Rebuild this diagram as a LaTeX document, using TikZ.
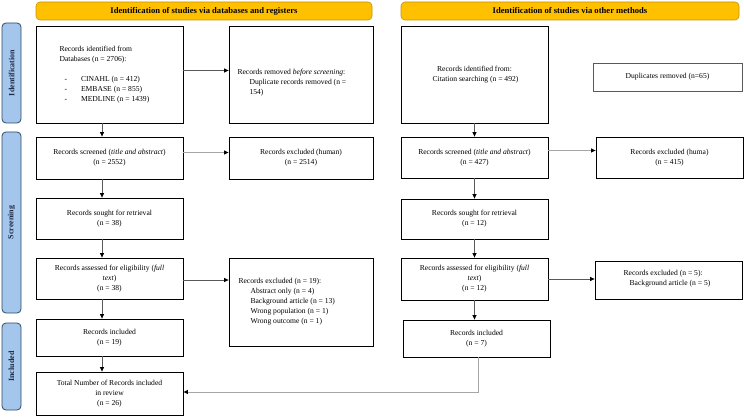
\documentclass[tikz,border=0pt]{standalone}
\usepackage{fontspec}
\setmainfont{Liberation Serif}
\usetikzlibrary{arrows.meta}
\definecolor{hdrfill}{HTML}{FFC000}
\definecolor{hdrline}{HTML}{C89200}
\definecolor{sidefill}{HTML}{A4C6EC}
\definecolor{sideline}{HTML}{2E4A66}
\definecolor{sidetext}{HTML}{1F2A44}
\definecolor{arrdark}{HTML}{595959}
\definecolor{arrlight}{HTML}{A6A6A6}
\newcommand{\mkbox}[7]{\node[#1, minimum width={(#5-#3)*1pt}, minimum height={(#6-#4)*1pt}] (#2) at ({(#3+#5)/2},{(#4+#6)/2}) {#7};}
\begin{document}
\begin{tikzpicture}[x=1pt,y=-1pt,
  txt/.style={font=\fontsize{7.6}{10}\selectfont},
  box/.style={txt, draw=black, line width=0.8pt, fill=white, inner sep=2pt, align=center},
  gbox/.style={box, draw=arrdark, line width=0.6pt},
  hdr/.style={draw=hdrline, line width=0.6pt, fill=hdrfill, rounded corners=4pt, font=\bfseries\fontsize{8.6}{10}\selectfont, inner sep=0pt},
  side/.style={draw=sideline, line width=0.8pt, fill=sidefill, rounded corners=4pt, inner sep=0pt},
  sidet/.style={font=\bfseries\fontsize{8}{10}\selectfont, text=sidetext, rotate=90},
  arr/.style={draw=arrdark, line width=0.7pt, -{Triangle[length=4.5pt,width=4pt,color=black]}},
  larr/.style={arr, draw=arrlight, line width=1pt}
]
\useasboundingbox (0,0) rectangle (744,417);
% headers
\mkbox{hdr}{H1}{36}{2}{372}{20}{Identification of studies via databases and registers}
\mkbox{hdr}{H2}{401}{2}{739}{20}{Identification of studies via other methods}
% side labels
\mkbox{side}{S1}{2}{23}{21}{123}{}
\mkbox{side}{S2}{2}{132}{21}{313}{}
\mkbox{side}{S3}{2}{323}{21}{410}{}
\node[sidet] (S1t) at (S1.center) {Identification};
\node[sidet] (S2t) at (S2.center) {Screening};
\node[sidet] (S3t) at (S3.center) {Included};
% left column
\mkbox{box}{L1}{36}{26}{183}{123}{}
\node[txt, align=left, anchor=west] (L1t) at (56,74.5) {Records identified from\\Databases (n = 2706):\\[10pt]\hspace*{5pt}-\hspace{14pt}CINAHL (n = 412)\\\hspace*{5pt}-\hspace{14pt}EMBASE (n = 855)\\\hspace*{5pt}-\hspace{14pt}MEDLINE (n = 1439)};
\mkbox{box}{L1r}{229}{26}{373}{123}{}
\node[txt, align=left, anchor=north west] (L1rt) at (234,66) {Records removed \textit{before screening}:\\\hspace*{12pt}Duplicate records removed (n =\\\hspace*{12pt}154)};
\mkbox{box}{L2}{36}{137}{183}{179}{Records screened (\textit{title and abstract})\\(n = 2552)}
\mkbox{box}{L2r}{229}{137}{373}{179}{Records excluded (human)\\(n = 2514)}
\mkbox{box}{L3}{36}{198}{183}{239}{Records sought for retrieval\\(n = 38)}
\mkbox{box}{L4}{36}{258}{183}{299}{Records assessed for eligibility (\textit{full}\\\textit{text})\\(n = 38)}
\mkbox{box}{L4r}{229}{258}{373}{346}{}
\node[txt, align=left, anchor=west] (L4rt) at (235,302) {Records excluded (n = 19):\\\hspace*{12pt}Abstract only (n = 4)\\\hspace*{12pt}Background article (n = 13)\\\hspace*{12pt}Wrong population (n = 1)\\\hspace*{12pt}Wrong outcome (n = 1)};
\mkbox{box}{L5}{36}{319}{183}{356}{Records included\\(n = 19)}
\mkbox{box}{L6}{36}{372}{183}{415.5}{Total Number of Records included\\in review\\(n = 26)}
% right column
\mkbox{box}{R1}{401}{26}{548}{123}{Records identified from:\\\hspace*{2pt}Citation searching (n = 492)}
\mkbox{gbox}{R1r}{593}{63}{742}{91}{Duplicates removed (n=65)}
\mkbox{box}{R2}{401}{137}{548}{178}{Records screened (\textit{title and abstract})\\(n = 427)}
\mkbox{box}{R2r}{596}{137}{743}{178}{Records excluded (huma)\\(n = 415)}
\mkbox{box}{R3}{401}{199}{548}{239}{Records sought for retrieval\\(n = 12)}
\mkbox{box}{R4}{401}{258}{548}{300}{Records assessed for eligibility (\textit{full}\\\textit{text})\\(n = 12)}
\mkbox{box}{R4r}{595}{261}{742}{299}{}
\node[txt, align=left] (R4rt) at (667,279) {Records excluded (n = 5):\\\hspace*{6pt}Background article (n = 5)};
\mkbox{box}{R5}{403}{320}{550}{357}{Records included\\(n = 7)}
\coordinate (bend) at (478,392);
% arrows left
\draw[arr] (L1.south -| 102,0) -- (L2.north -| 102,0);
\draw[arr] (L2.south -| 102,0) -- (L3.north -| 102,0);
\draw[arr] (L3.south -| 102,0) -- (L4.north -| 102,0);
\draw[arr] (L4.south -| 102,0) -- (L5.north -| 102,0);
\draw[arr] (L5.south -| 102,0) -- (L6.north -| 102,0);
\draw[arr] (L1.east |- 0,70.5) -- (L1r.west |- 0,70.5);
\draw[larr] (L2.east |- 0,152.5) -- (L2r.west |- 0,152.5);
\draw[arr] (L4.east |- 0,280) -- (L4r.west |- 0,280);
% arrows right
\draw[arr] (R1.south) -- (R2.north);
\draw[arr] (R2.south) -- (R3.north);
\draw[arr] (R3.south) -- (R4.north);
\draw[arr] (R4.south -| 474.5,0) -- (R5.north -| 474.5,0);
\draw[larr] (R2.east |- 0,150.5) -- (R2r.west |- 0,150.5);
\draw[arr] (R4.east |- 0,279) -- (R4r.west |- 0,279);
\draw[larr] (R5.south -| bend) -- (bend) -- (L6.east |- bend);
\end{tikzpicture}
\end{document}
